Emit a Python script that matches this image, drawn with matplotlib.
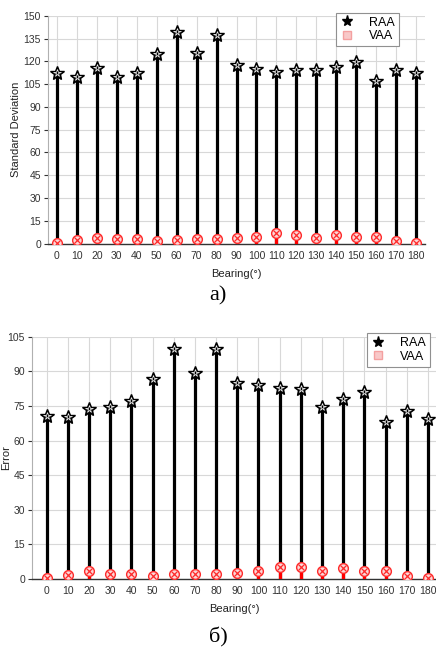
import numpy as np
import matplotlib
matplotlib.use("Agg")
import matplotlib.pyplot as plt
from matplotlib.lines import Line2D

plt.rcParams['font.family'] = ['Liberation Sans', 'DejaVu Sans']

# bearings (degrees)
bearing = [0, 10, 20, 30, 40, 50, 60, 70, 80, 90,
           100, 110, 120, 130, 140, 150, 160, 170, 180]

# a) standard deviation
std_raa = [112.5, 109.5, 115.5, 109.5, 112, 124.5, 139, 125.5, 137.5, 117.5,
           115, 113, 114, 114, 116.5, 119.5, 107, 114, 112]
std_vaa = [0.5, 2.2, 3.5, 2.9, 2.9, 2.0, 2.6, 2.9, 3.1, 3.7,
           4.6, 7.0, 5.9, 4.0, 5.5, 4.2, 4.6, 2.0, 0.4]

# b) error
err_raa = [70.6, 70.0, 73.6, 74.4, 77.1, 86.5, 99.6, 89.1, 99.6, 85.1,
           84.0, 82.9, 82.2, 74.7, 78.1, 81.0, 67.9, 72.8, 69.5]
err_vaa = [0.3, 1.6, 3.3, 2.2, 2.2, 1.2, 2.0, 2.0, 2.0, 2.6,
           3.6, 5.2, 5.1, 3.3, 4.9, 3.3, 3.6, 1.3, 0.3]

fig = plt.figure(figsize=(4.36, 6.55), dpi=100)
ax1 = fig.add_axes([0.110, 0.628, 0.865, 0.348])
ax2 = fig.add_axes([0.073, 0.116, 0.927, 0.370])


def draw(ax, raa, vaa, ymax, ylabel, xlim):
    x = np.array(bearing)
    ax.vlines(x, 0, raa, color='black', lw=2.3, zorder=3)
    ax.vlines(x, 0, vaa, color='#ff0000', lw=2.3, zorder=4)
    # RAA stars: black star with a thin white inner outline
    ax.plot(x, raa, ls='none', marker='*', ms=10, mfc='black', mec='black',
            zorder=5)
    ax.plot(x, raa, ls='none', marker='*', ms=5.5, mfc='none', mec='white',
            mew=0.5, zorder=6)
    # VAA circle with cross
    ax.plot(x, vaa, ls='none', marker='o', ms=7, mfc='#fbd6d6', mec='#ff2a2a',
            mew=1.0, zorder=6)
    ax.plot(x, vaa, ls='none', marker='x', ms=4.2, mec='#ff2a2a', mew=0.9,
            zorder=7)

    ax.set_xlim(*xlim)
    ax.set_ylim(0, ymax)
    ax.set_xticks(bearing)
    ax.set_yticks(np.arange(0, ymax + 1, 15))
    ax.grid(True, color='#d8d8d8', lw=0.8, zorder=0)
    ax.set_axisbelow(True)
    for s in ['top', 'right']:
        ax.spines[s].set_visible(False)
    ax.spines['left'].set_color('#b0b0b0')
    ax.spines['left'].set_linewidth(0.8)
    ax.spines['bottom'].set_color('#333333')
    ax.spines['bottom'].set_linewidth(1.0)
    ax.tick_params(axis='both', labelsize=7.5, colors='#333333', length=3,
                   width=0.8, pad=2)
    ax.tick_params(axis='x', length=0, pad=5)
    ax.set_xlabel('Bearing(°)', fontsize=8, color='#222222', labelpad=6)
    ax.set_ylabel(ylabel, fontsize=8, color='#222222')

    h1 = Line2D([], [], ls='none', marker='*', ms=8, mfc='black', mec='black')
    h2 = Line2D([], [], ls='none', marker='s', ms=6, mfc='#f8c8c8', mec='#f4a0a0')
    leg = ax.legend([h1, h2], ['RAA', 'VAA'], loc='upper right',
                    bbox_to_anchor=(1.0, 1.04), fontsize=9, frameon=True,
                    fancybox=False, edgecolor='#909090', framealpha=1,
                    handlelength=1.2, handletextpad=1.2, borderpad=0.3,
                    labelspacing=0.15)
    leg.get_frame().set_linewidth(0.8)
    return ax


draw(ax1, std_raa, std_vaa, 150, 'Standard Deviation', (-4.5, 184.5))
ax1.get_legend().set_bbox_to_anchor((0.947, 1.04))
ax1.yaxis.set_label_coords(-0.072, 0.5)
draw(ax2, err_raa, err_vaa, 105, 'Error', (-7, 183.8))
ax2.get_legend().set_bbox_to_anchor((1.0, 1.04))
ax2.yaxis.set_label_coords(-0.05, 0.5)

fig.text(0.5, 0.548, 'a)', fontsize=16, family='Liberation Serif',
         ha='center', va='center')
fig.text(0.5, 0.027, 'б)', fontsize=16, family='Liberation Serif',
         ha='center', va='center')

fig.savefig('out.png', dpi=100)
